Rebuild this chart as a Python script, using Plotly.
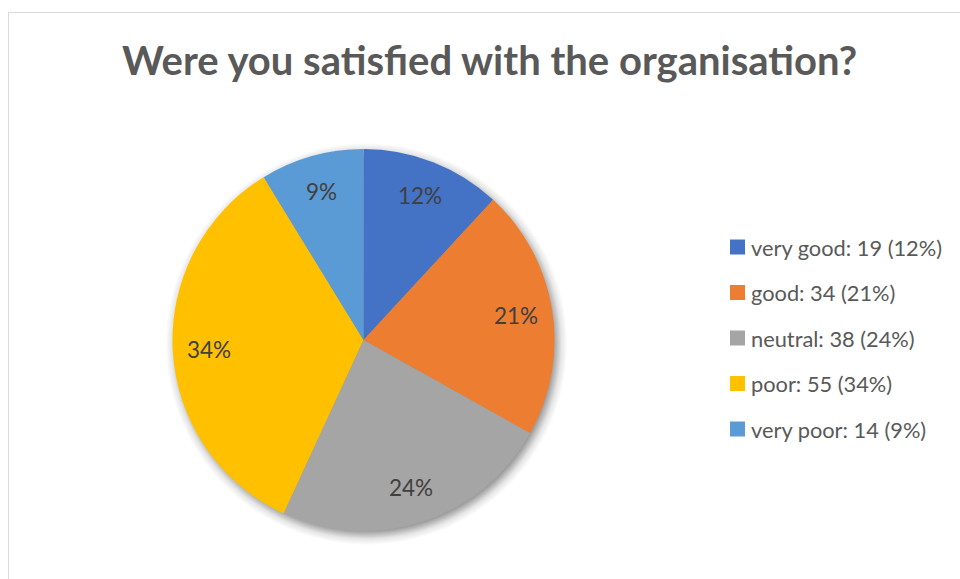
import numpy as np
import plotly.graph_objects as go

# Survey answers
categories = ["very good", "good", "neutral", "poor", "very poor"]
counts = [19, 34, 38, 55, 14]
colors = ["#4472C4", "#ED7D31", "#A5A5A5", "#FFC000", "#5B9BD5"]

W, H = 960, 579
CX, CY, R = 363.5, 340.0, 191.0  # pie centre and radius in pixels
LABEL_R = 0.81                    # data labels sit at this fraction of the radius


def px(x):
    return x / W


def py(y):
    return 1 - y / H


total = sum(counts)
pct = [round(100 * c / total) for c in counts]

fig = go.Figure()

# soft drop shadow under the pie (radial fade), drawn in pixel space
theta = np.linspace(0, 2 * np.pi, 181)
sr = R + 10
fig.add_trace(go.Scatter(
    x=CX + 3 + sr * np.cos(theta), y=CY + 4 + sr * np.sin(theta),
    mode="lines", line=dict(width=0), fill="toself",
    fillgradient=dict(type="radial",
                      colorscale=[[0, "rgba(0,0,0,0.45)"], [0.93, "rgba(0,0,0,0.38)"],
                                  [0.97, "rgba(0,0,0,0.10)"], [1, "rgba(0,0,0,0)"]]),
    hoverinfo="skip", showlegend=False,
))

fig.add_trace(go.Pie(
    labels=categories, values=counts, sort=False, direction="clockwise",
    rotation=0,
    marker=dict(colors=colors, line=dict(width=0)),
    textinfo="none",
    domain=dict(x=[px(CX - R), px(CX + R)], y=[py(CY + R), py(CY - R)]),
    showlegend=False, hoverinfo="label+value+percent",
))

shapes = [dict(type="rect", xref="paper", yref="paper",
               x0=px(8.5), x1=px(W + 20), y0=py(H + 20), y1=py(12.5),
               line=dict(color="#D9D9D9", width=1), fillcolor="rgba(0,0,0,0)")]
annotations = [dict(text="<b>Were you satisfied with the organisation?</b>",
                    x=px(489), y=py(60), xref="paper", yref="paper",
                    showarrow=False, xanchor="center", yanchor="middle",
                    font=dict(family="Lato", size=40, color="#595959"))]

# percentage labels at the middle angle of each slice (clockwise from 12 o'clock)
cum = np.cumsum([0] + counts)
for i, p in enumerate(pct):
    mid = (cum[i] + counts[i] / 2) / total * 2 * np.pi
    annotations.append(dict(text=f"{p}%",
                            x=px(CX + LABEL_R * R * np.sin(mid)),
                            y=py(CY - LABEL_R * R * np.cos(mid)),
                            xref="paper", yref="paper", showarrow=False,
                            xanchor="center", yanchor="middle",
                            font=dict(family="Lato", size=22.5, color="#404040")))

# legend: coloured squares with counts and shares
legend_y0, legend_dy = 247, 45.5
for i, (cat, cnt, p, col) in enumerate(zip(categories, counts, pct, colors)):
    yc = legend_y0 + i * legend_dy
    shapes.append(dict(type="rect", xref="paper", yref="paper",
                       x0=px(730), x1=px(745), y0=py(yc + 7.5), y1=py(yc - 7.5),
                       line=dict(width=0), fillcolor=col))
    annotations.append(dict(text=f"{cat}: {cnt} ({p}%)", x=px(749), y=py(yc),
                            xref="paper", yref="paper", showarrow=False,
                            xanchor="left", yanchor="middle",
                            font=dict(family="Lato", size=21.8, color="#595959")))

fig.update_layout(
    width=W, height=H, margin=dict(l=0, r=0, t=0, b=0),
    paper_bgcolor="white", plot_bgcolor="white",
    xaxis=dict(range=[0, W], visible=False, domain=[0, 1], fixedrange=True),
    yaxis=dict(range=[H, 0], visible=False, domain=[0, 1], fixedrange=True),
    shapes=shapes, annotations=annotations, showlegend=False,
)

fig.write_html("out.html")
